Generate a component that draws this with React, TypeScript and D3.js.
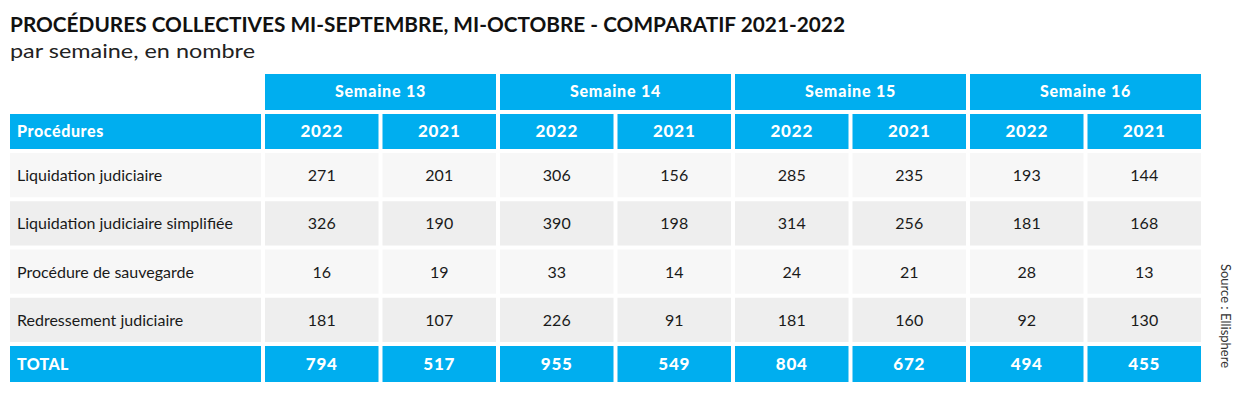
import React, { useEffect, useRef } from 'react';
import * as d3 from 'd3';

const title = 'PROCÉDURES COLLECTIVES MI-SEPTEMBRE, MI-OCTOBRE - COMPARATIF 2021-2022';
const subtitle = 'par semaine, en nombre';
const source = 'Source : Ellisphere';

const weeks = ['Semaine 13', 'Semaine 14', 'Semaine 15', 'Semaine 16'];
const years = ['2022', '2021'];
const procedures = [
  'Liquidation judiciaire',
  'Liquidation judiciaire simplifiée',
  'Procédure de sauvegarde',
  'Redressement judiciaire',
];
const liquidation = [271, 201, 306, 156, 285, 235, 193, 144];
const liquidationSimplifiee = [326, 190, 390, 198, 314, 256, 181, 168];
const sauvegarde = [16, 19, 33, 14, 24, 21, 28, 13];
const redressement = [181, 107, 226, 91, 181, 160, 92, 130];
const totals = [794, 517, 955, 549, 804, 672, 494, 455];

const rowValues = [liquidation, liquidationSimplifiee, sauvegarde, redressement];

const BLUE = '#00aeef';
const FONT = 'Lato, "Open Sans", sans-serif';

export default function App() {
  const ref = useRef<SVGSVGElement>(null);

  useEffect(() => {
    const svg = d3.select(ref.current);
    svg.selectAll('*').remove();

    const gap = 4;
    const left = 10;
    const labelRight = 261;
    const tableLeft = 265;
    const tableRight = 1205;

    const columns = weeks.flatMap(w => years.map(y => `${w}|${y}`));

    const weekScale = d3.scaleBand<string>().domain(weeks).range([tableLeft, tableRight]);
    const colScale = d3.scaleBand<string>().domain(columns).range([tableLeft, tableRight]);
    const rowScale = d3.scaleBand<string>().domain(procedures).range([153, 346]);

    const boldText = (sel: any, size: number, spacing: number) =>
      sel.attr('font-family', FONT)
        .attr('font-weight', 900)
        .attr('font-size', size)
        .attr('letter-spacing', spacing)
        .attr('fill', '#fff');

    // title
    svg.append('text')
      .attr('x', left)
      .attr('y', 32)
      .attr('font-family', FONT)
      .attr('font-weight', 700)
      .attr('font-size', 21)
      .attr('fill', '#111')
      .attr('textLength', 835)
      .attr('lengthAdjust', 'spacingAndGlyphs')
      .text(title);

    svg.append('text')
      .attr('x', left)
      .attr('y', 58)
      .attr('font-family', FONT)
      .attr('font-size', 19)
      .attr('fill', '#222')
      .attr('textLength', 245)
      .attr('lengthAdjust', 'spacingAndGlyphs')
      .text(subtitle);

    // week header
    weeks.forEach(w => {
      const x = weekScale(w)!;
      const bw = weekScale.bandwidth() - gap;
      svg.append('rect')
        .attr('x', x).attr('y', 74)
        .attr('width', bw).attr('height', 36)
        .attr('fill', BLUE);
      boldText(svg.append('text'), 16, 0.8)
        .attr('x', x + bw / 2)
        .attr('y', 97)
        .attr('text-anchor', 'middle')
        .text(w);
    });

    // year header
    svg.append('rect')
      .attr('x', left).attr('y', 114)
      .attr('width', labelRight - left).attr('height', 35)
      .attr('fill', BLUE);
    boldText(svg.append('text'), 16, 0.6)
      .attr('x', 17)
      .attr('y', 137)
      .text('Procédures');

    columns.forEach(c => {
      const x = colScale(c)!;
      const w = colScale.bandwidth() - gap;
      svg.append('rect')
        .attr('x', x).attr('y', 114)
        .attr('width', w).attr('height', 35)
        .attr('fill', BLUE);
      boldText(svg.append('text'), 17, 0.8)
        .attr('x', x + w / 2)
        .attr('y', 137)
        .attr('text-anchor', 'middle')
        .text(c.split('|')[1]);
    });

    // data rows
    procedures.forEach((p, i) => {
      const y = rowScale(p)!;
      const h = rowScale.bandwidth() - gap;
      const fill = i % 2 === 0 ? '#f7f7f7' : '#eeeeee';
      svg.append('rect')
        .attr('x', left).attr('y', y)
        .attr('width', labelRight - left).attr('height', h)
        .attr('fill', fill);
      svg.append('text')
        .attr('x', 17)
        .attr('y', y + h / 2 + 6)
        .attr('font-family', FONT)
        .attr('font-size', 16)
        .attr('fill', '#1a1a1a')
        .text(p);
      rowValues[i].forEach((v, j) => {
        const x = colScale(columns[j])!;
        const w = colScale.bandwidth() - gap;
        svg.append('rect')
          .attr('x', x).attr('y', y)
          .attr('width', w).attr('height', h)
          .attr('fill', fill);
        svg.append('text')
          .attr('x', x + w / 2)
          .attr('y', y + h / 2 + 6)
          .attr('text-anchor', 'middle')
          .attr('font-family', FONT)
          .attr('font-size', 16)
          .attr('fill', '#1a1a1a')
          .text(v);
      });
    });

    // total row
    const ty = 346;
    const th = 36;
    svg.append('rect')
      .attr('x', left).attr('y', ty)
      .attr('width', labelRight - left).attr('height', th)
      .attr('fill', BLUE);
    boldText(svg.append('text'), 16, 0.3)
      .attr('x', 17)
      .attr('y', ty + th / 2 + 6)
      .text('TOTAL');
    totals.forEach((v, j) => {
      const x = colScale(columns[j])!;
      const w = colScale.bandwidth() - gap;
      svg.append('rect')
        .attr('x', x).attr('y', ty)
        .attr('width', w).attr('height', th)
        .attr('fill', BLUE);
      boldText(svg.append('text'), 17, 0.8)
        .attr('x', x + w / 2)
        .attr('y', ty + th / 2 + 6)
        .attr('text-anchor', 'middle')
        .text(v);
    });

    // source, rotated
    svg.append('text')
      .attr('transform', 'translate(1221,316) rotate(90)')
      .attr('text-anchor', 'middle')
      .attr('font-family', FONT)
      .attr('font-size', 13)
      .attr('fill', '#333')
      .text(source);
  }, []);

  return (
    <svg
      ref={ref}
      width={1249}
      height={408}
      style={{ position: 'absolute', left: 0, top: 0, background: '#fff' }}
    />
  );
}
